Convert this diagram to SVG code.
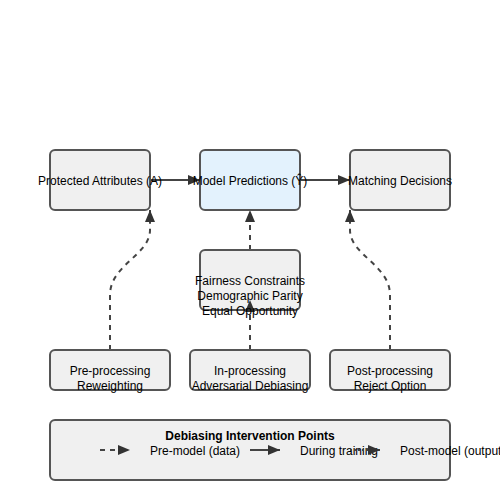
<svg xmlns="http://www.w3.org/2000/svg" width="500" height="500" viewBox="0 0 500 500">
<defs>
<marker id="ah" markerWidth="12" markerHeight="10" refX="12" refY="5" orient="auto" markerUnits="userSpaceOnUse">
<path d="M0,0 L12,5 L0,10 Z" fill="#333"/>
</marker>
<style>
.box{fill:#f0f0f0;stroke:#555;stroke-width:2}
.blue{fill:#e3f2fd}
.t{font-family:"Liberation Sans",Arial,sans-serif;font-size:12px;fill:#000;text-anchor:middle}
.s{text-anchor:start}
.e{stroke:#444;stroke-width:2;fill:none}
.d{stroke-dasharray:5,5}
.dot{stroke-dasharray:2,2}
</style>
</defs>
<rect width="500" height="500" fill="#fff"/>
<g id="connectors">
<path class="e" d="M150,180 L200,180" marker-end="url(#ah)"/>
<path class="e" d="M300,180 L350,180" marker-end="url(#ah)"/>
<path class="e d" d="M250,250 L250,210" marker-end="url(#ah)"/>
<path class="e d" d="M110,350 L110,295 C110,265 150,255 150,230 L150,210" marker-end="url(#ah)"/>
<path class="e d" d="M390,350 L390,295 C390,265 350,255 350,230 L350,210" marker-end="url(#ah)"/>
</g>
<g id="protected"><rect class="box" x="50" y="150" width="100" height="60" rx="5"/><text class="t" x="100" y="185">Protected Attributes (A)</text></g>
<g id="predictions"><rect class="box blue" x="200" y="150" width="100" height="60" rx="5"/><text class="t" x="250" y="185">Model Predictions (Ŷ)</text></g>
<g id="decisions"><rect class="box" x="350" y="150" width="100" height="60" rx="5"/><text class="t" x="400" y="185">Matching Decisions</text></g>
<g id="fairness"><rect class="box" x="200" y="250" width="100" height="60" rx="5"/>
<path class="e d" d="M250,350 L250,300" marker-end="url(#ah)"/>
<text class="t" x="250" y="285">Fairness Constraints</text><text class="t" x="250" y="300">Demographic Parity</text><text class="t" x="250" y="315">Equal Opportunity</text></g>
<g id="pre"><rect class="box" x="50" y="350" width="120" height="40" rx="5"/><text class="t" x="110" y="375">Pre-processing</text><text class="t" x="110" y="390">Reweighting</text></g>
<g id="in"><rect class="box" x="190" y="350" width="120" height="40" rx="5"/><text class="t" x="250" y="375">In-processing</text><text class="t" x="250" y="390">Adversarial Debiasing</text></g>
<g id="post"><rect class="box" x="330" y="350" width="120" height="40" rx="5"/><text class="t" x="390" y="375">Post-processing</text><text class="t" x="390" y="390">Reject Option</text></g>
<g id="legend"><rect class="box" x="50" y="420" width="400" height="60" rx="5"/>
<text class="t" x="250" y="440" font-weight="bold">Debiasing Intervention Points</text>
<path class="e d" d="M100,450 L130,450" marker-end="url(#ah)"/>
<text class="t s" x="150" y="455">Pre-model (data)</text>
<path class="e" d="M250,450 L280,450" marker-end="url(#ah)"/>
<text class="t s" x="300" y="455">During training</text>
<path class="e dot" d="M350,450 L380,450" marker-end="url(#ah)"/>
<text class="t s" x="400" y="455">Post-model (output)</text>
</g>
</svg>
